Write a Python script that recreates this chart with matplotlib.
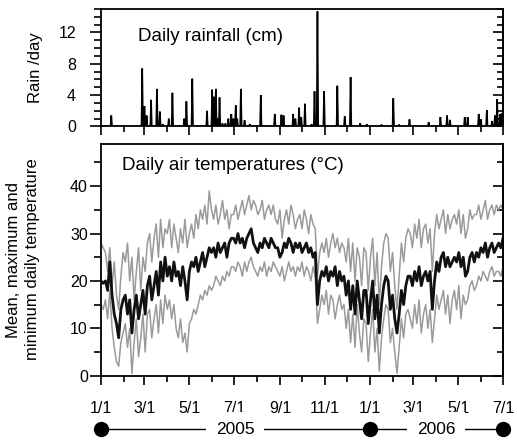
import numpy as np
import matplotlib
matplotlib.use('Agg')
import matplotlib.pyplot as plt
import matplotlib.dates as mdates
import matplotlib.transforms as mtransforms
from matplotlib.ticker import MultipleLocator, FuncFormatter, FixedLocator

plt.rcParams['font.family'] = ['Liberation Sans', 'DejaVu Sans']

# ---------------- data ----------------
start_date = np.datetime64('2005-01-01')
end_date = np.datetime64('2006-07-01')
temp_step = 3  # one reading every 3 days

tmean = [20, 19.5, 20, 18, 24, 17, 13, 11, 8, 14,
         16, 17, 13, 16, 9, 14, 17, 12, 15, 18,
         13, 19, 21, 16, 19, 22, 17, 24, 20, 25,
         21, 23, 20, 24, 21, 22, 19, 23, 20, 16,
         22, 24, 23, 25, 22, 24, 26, 23, 25, 27,
         26, 27, 25, 28, 26, 27, 28, 25, 28, 29,
         29, 28, 30, 28, 29, 27, 29, 30, 31, 28,
         27, 26, 28, 27, 29, 28, 27, 29, 28, 27,
         27, 25, 26, 28, 27, 29, 28, 26, 28, 27,
         28, 26, 27, 28, 26, 27, 25, 26, 15, 20,
         22, 21, 23, 20, 22, 21, 23, 19, 22, 20,
         21, 17, 20, 14, 19, 13, 20, 16, 12, 18,
         18, 11, 16, 20, 12, 17, 9, 15, 19, 21,
         20, 14, 17, 12, 9, 13, 18, 15, 19, 21,
         21, 19, 22, 20, 23, 19, 21, 22, 20, 22,
         14, 20, 24, 22, 25, 26, 23, 25, 23, 24,
         25, 24, 26, 23, 25, 21, 22, 25, 26, 24,
         26, 25, 27, 26, 28, 25, 27, 28, 26, 27,
         28, 27, 29]

tmax = [28, 27, 26, 22, 27, 19, 24, 17, 14, 21,
        26, 24, 28, 20, 25, 16, 22, 27, 18, 25,
        22, 28, 30, 24, 29, 32, 25, 33, 27, 31,
        30, 33, 27, 32, 29, 26, 31, 28, 33, 27,
        30, 32, 29, 34, 31, 35, 33, 36, 32, 39,
        35, 33, 36, 32, 34, 37, 33, 35, 31, 34,
        34, 36, 33, 35, 37, 34, 36, 38, 35, 37,
        36, 34, 35, 37, 33, 35, 36, 34, 36, 33,
        32, 35, 29, 33, 35, 32, 36, 34, 31, 33,
        34, 31, 35, 33, 30, 34, 32, 31, 21, 26,
        28, 26, 29, 25, 28, 30, 27, 29, 26, 28,
        27, 24, 29, 22, 28, 20, 27, 25, 19, 27,
        26, 18, 25, 29, 19, 26, 15, 23, 28, 30,
        29, 22, 26, 19, 14, 21, 28, 24, 29, 31,
        30, 27, 32, 29, 33, 27, 31, 32, 28, 31,
        22, 30, 34, 31, 33, 35, 30, 34, 31, 33,
        34, 32, 35, 30, 34, 29, 31, 35, 33, 34,
        34, 36, 33, 35, 37, 33, 35, 36, 34, 36,
        35, 36, 35]

tmin = [15, 14, 16, 12, 18, 10, 6, 3, 2, 7,
        9, 11, 6, 10, 0.5, 7, 12, 4, 8, 13,
        5, 13, 14, 8, 12, 15, 9, 16, 11, 17,
        14, 16, 12, 15, 10, 8, 12, 7, 9, 5,
        11, 12, 14, 13, 15, 17, 16, 18, 17, 19,
        18, 19, 21, 20, 19, 21, 20, 22, 21, 23,
        23, 22, 24, 23, 21, 24, 22, 24, 25, 23,
        22, 21, 23, 22, 24, 21, 23, 22, 24, 23,
        22, 21, 23, 20, 22, 24, 22, 23, 21, 23,
        22, 24, 21, 23, 22, 20, 23, 21, 11, 14,
        17, 15, 18, 13, 17, 16, 12, 15, 17, 14,
        15, 10, 14, 7, 13, 6, 15, 9, 5, 12,
        11, 3, 9, 14, 5, 10, 1, 8, 12, 15,
        14, 7, 10, 5, 0.5, 6, 12, 8, 13, 14,
        12, 10, 15, 11, 16, 9, 13, 15, 10, 14,
        7, 12, 17, 14, 16, 18, 13, 17, 11, 16,
        18, 14, 19, 12, 17, 15, 16, 19, 20, 18,
        19, 21, 20, 22, 21, 20, 22, 23, 21, 22,
        22, 21, 23]

# rain events: day offset from 2005-01-01 and amount (cm)
rain_day = [14, 56, 59, 62, 68, 76, 80, 84, 92, 97, 113, 116, 124, 144, 151,
            153, 156, 158, 161, 165, 169, 173, 177, 180, 183, 185, 190, 195,
            202, 217, 236, 245, 248, 261, 264, 269, 272, 277, 286, 290, 294,
            303, 321, 331, 339, 352, 361, 381, 397, 405, 419, 445, 461, 470,
            474, 494, 498, 513, 516, 524, 531, 535, 538, 542, 545]
rain_cm = [1.4, 7.4, 2.6, 1.4, 3.4, 4.8, 1.9, 0.3, 1.0, 4.3, 1.0, 3.2, 6.1, 2.0,
           4.7, 3.8, 4.8, 1.0, 3.7, 0.4, 0.4, 1.0, 1.6, 1.0, 2.7, 1.0, 4.8, 0.8,
           0.3, 4.0, 1.6, 1.5, 1.4, 1.6, 1.0, 2.4, 1.2, 2.9, 0.3, 4.5, 14.7,
           4.5, 5.2, 1.3, 6.3, 0.4, 0.3, 0.25, 3.6, 0.25, 0.9, 0.55, 1.2, 1.4,
           0.85, 1.2, 1.2, 1.6, 0.9, 2.1, 0.7, 1.4, 3.5, 1.6, 1.7]

year_marks = ['2005-01-01', '2006-01-01', '2006-07-01']
year_labels = ['2005', '2006']
year_label_dates = ['2005-07-02', '2006-04-01']

# ---------------- derived series ----------------
n_days = int((end_date - start_date).astype(int)) + 1
rain_daily = np.zeros(n_days)
rain_daily[np.array(rain_day)] = rain_cm
rain_dates = start_date + np.arange(n_days).astype('timedelta64[D]')
temp_dates = start_date + (np.arange(len(tmean)) * temp_step).astype('timedelta64[D]')

# ---------------- figure ----------------
W, H = 517, 440
fig = plt.figure(figsize=(W / 100, H / 100), dpi=100)
x0, x1 = 101, 503
ax1 = fig.add_axes([x0 / W, 1 - 126.5 / H, (x1 - x0) / W, (126.5 - 9) / H])
ax2 = fig.add_axes([x0 / W, 1 - 375.7 / H, (x1 - x0) / W, (375.7 - 143.5) / H])

TW = 1.2
for ax in (ax1, ax2):
    for s in ax.spines.values():
        s.set_linewidth(1.3)
    ax.set_xlim(start_date, end_date)
    ax.xaxis.set_major_locator(mdates.MonthLocator(bymonth=[1, 3, 5, 7, 9, 11]))
    ax.xaxis.set_minor_locator(mdates.MonthLocator())
    ax.tick_params(axis='x', which='major', direction='out', length=6.5, width=TW,
                   top=False, pad=12, labelsize=11.5)
    ax.tick_params(axis='x', which='minor', direction='out', length=4.3, width=TW, top=False)
    ax.tick_params(axis='y', which='major', direction='out', length=8, width=TW,
                   right=False, labelsize=11.5)
    ax.tick_params(axis='y', which='minor', direction='out', length=4.7, width=TW, right=False)

ax2.xaxis.set_major_formatter(FuncFormatter(lambda v, p: f"{mdates.num2date(v).month}/1"))
ax1.tick_params(axis='x', labelbottom=False)

# rain panel
ax1.plot(rain_dates, rain_daily, color='black', lw=1.2, solid_joinstyle='miter')
ax1.set_ylim(0, 15)
ax1.yaxis.set_major_locator(FixedLocator([0, 4, 8, 12]))
ax1.yaxis.set_minor_locator(MultipleLocator(1))
ax1.tick_params(axis='y', which='major', pad=10)
ax1.set_ylabel('Rain /day', fontsize=12)
ax1.yaxis.set_label_coords(-0.144, 0.5)
ax1.text(0.092, 0.77, 'Daily rainfall (cm)', transform=ax1.transAxes, fontsize=13.5,
         ha='left', va='center')
sec1 = ax1.secondary_yaxis('right')
sec1.set_yticks([0, 4, 8, 12])
sec1.yaxis.set_minor_locator(MultipleLocator(1))
sec1.tick_params(which='major', direction='in', length=7.2, width=TW, labelright=False)
sec1.tick_params(which='minor', direction='in', length=4.3, width=TW)
sec1.spines['right'].set_linewidth(1.3)

# temperature panel
ax2.plot(temp_dates, tmax, color='#9a9a9a', lw=1.1)
ax2.plot(temp_dates, tmin, color='#9a9a9a', lw=1.1)
ax2.plot(temp_dates, tmean, color='#111111', lw=2.0)
ax2.set_ylim(0, 49)
ax2.yaxis.set_major_locator(FixedLocator([0, 10, 20, 30, 40]))
ax2.yaxis.set_minor_locator(MultipleLocator(5))
ax2.tick_params(axis='y', which='major', pad=1.5)
ax2.set_ylabel('Mean, maximum and\nminimum daily temperature', fontsize=12,
               linespacing=1.3)
ax2.yaxis.set_label_coords(-0.152, 0.5)
ax2.text(0.052, 0.905, 'Daily air temperatures (°C)', transform=ax2.transAxes,
         fontsize=13.5, ha='left', va='center')
sec2 = ax2.secondary_yaxis('right')
sec2.set_yticks([0, 10, 20, 30, 40])
sec2.yaxis.set_minor_locator(MultipleLocator(5))
sec2.tick_params(which='major', direction='in', length=7.2, width=TW, labelright=False)
sec2.tick_params(which='minor', direction='in', length=4.3, width=TW)
sec2.spines['right'].set_linewidth(1.3)

# year timeline below the axis
trans = mtransforms.blended_transform_factory(ax2.transData, ax2.transAxes)
y_line = (375.7 - 429) / (375.7 - 143.5)
mark_nums = mdates.date2num(np.array(year_marks, dtype='datetime64[D]'))
ax2.plot(mark_nums, [y_line] * len(mark_nums), '-', color='black', lw=1.0,
         marker='o', ms=10, transform=trans, clip_on=False)
for lab, d in zip(year_labels, year_label_dates):
    ax2.text(mdates.date2num(np.datetime64(d)), y_line, lab, transform=trans,
             ha='center', va='center', fontsize=12.5,
             bbox=dict(facecolor='white', edgecolor='none', pad=7), clip_on=False)

fig.savefig('out.png', dpi=100)
